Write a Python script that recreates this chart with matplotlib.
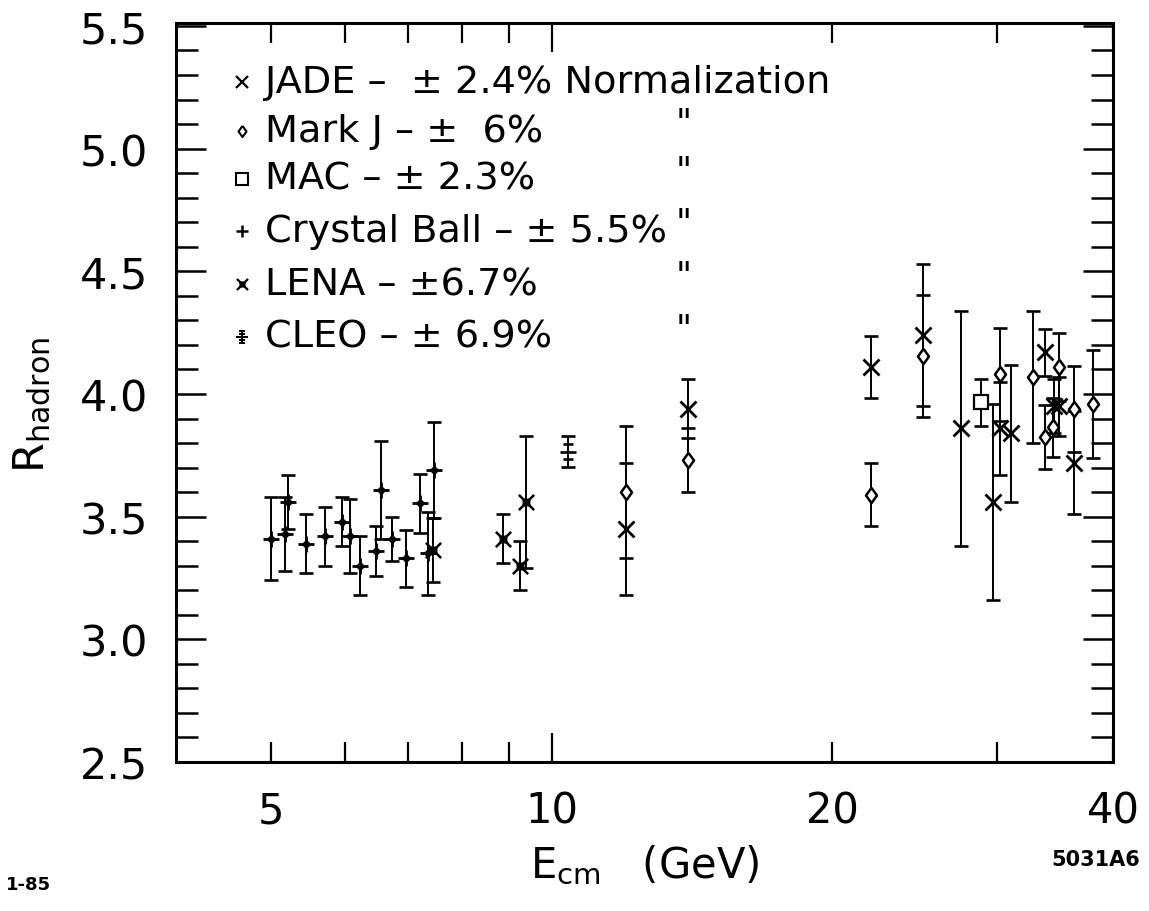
import matplotlib
matplotlib.use('Agg')
import matplotlib.pyplot as plt
from matplotlib.ticker import FixedLocator, FixedFormatter
from matplotlib.path import Path

plt.rcParams['font.family'] = ['DejaVu Sans']
plt.rcParams['mathtext.default'] = 'regular'

# ---------------- data ----------------
cb_x = [5.0, 5.17, 5.21, 5.45, 5.71, 5.96, 6.07, 6.23, 6.48, 6.56, 6.73, 6.98, 7.22, 7.37, 7.47]
cb_r = [3.41, 3.43, 3.56, 3.39, 3.42, 3.48, 3.42, 3.30, 3.36, 3.61, 3.41, 3.33, 3.555, 3.35, 3.69]
cb_e = [0.17, 0.15, 0.11, 0.12, 0.12, 0.10, 0.15, 0.12, 0.10, 0.20, 0.09, 0.115, 0.12, 0.17, 0.195]

lena_x = [7.45, 8.87, 9.24, 9.39]
lena_r = [3.365, 3.41, 3.30, 3.56]
lena_e = [0.13, 0.10, 0.10, 0.27]

cleo_x = [10.41]
cleo_r = [3.765]
cleo_e = [0.062]
cleo_stat = [0.03]

jade_x = [12.0, 14.0, 22.0, 25.0, 27.5, 29.75, 30.25, 31.1, 33.8, 34.6, 35.0, 36.3]
jade_r = [3.45, 3.94, 4.11, 4.24, 3.86, 3.56, 3.86, 3.84, 4.17, 3.95, 3.95, 3.72]
jade_e = [0.27, 0.12, 0.127, 0.29, 0.48, 0.40, 0.19, 0.28, 0.095, 0.11, 0.12, 0.21]

markj_x = [12.0, 14.0, 22.0, 25.0, 30.25, 32.85, 33.8, 34.5, 35.0, 36.3, 38.1]
markj_r = [3.60, 3.73, 3.59, 4.155, 4.08, 4.07, 3.825, 3.865, 4.11, 3.94, 3.96]
markj_e = [0.27, 0.13, 0.13, 0.25, 0.19, 0.27, 0.13, 0.12, 0.14, 0.176, 0.22]

mac_x = [28.9]
mac_r = [3.966]
mac_e = [0.097]

x_major = [5, 6, 7, 8, 9, 20, 30, 40]
x_major_labels = ['5', '', '', '', '', '20', '', '40']
x_long = [10]
x_long_labels = ['10']
y_major = [2.5, 3.0, 3.5, 4.0, 4.5, 5.0, 5.5]
y_major_labels = ['2.5', '3.0', '3.5', '4.0', '4.5', '5.0', '5.5']
y_minor = [round(2.5 + 0.1 * i, 1) for i in range(31)]

legend_rows = ['JADE \u2013  \u00b1 2.4% Normalization',
               'Mark J \u2013 \u00b1  6%',
               'MAC \u2013 \u00b1 2.3%',
               'Crystal Ball \u2013 \u00b1 5.5%',
               'LENA \u2013 \u00b16.7%',
               'CLEO \u2013 \u00b1 6.9%']

# ---------------- figure ----------------
W, H = 1149, 912
fig = plt.figure(figsize=(W / 100, H / 100), dpi=100)
L, R, B, T = 176, 1113, 763, 24
ax = fig.add_axes([L / W, 1 - B / H, (R - L) / W, (B - T) / H])
ax.set_xscale('log')
ax.set_xlim(3.95, 40)
ax.set_ylim(2.5, 5.512)

for s in ax.spines.values():
    s.set_linewidth(2.2)

# custom markers
M, Ln = Path.MOVETO, Path.LINETO
lena_marker = Path([(-1, -1), (1, 1), (-1, 1), (1, -1),
                    (-0.35, -0.35), (0.35, -0.35), (0.35, 0.35), (-0.35, 0.35), (-0.35, -0.35)],
                   [M, Ln, M, Ln, M, Ln, Ln, Ln, Ln])
diamond_marker = Path([(0, 1), (0.72, 0), (0, -1), (-0.72, 0), (0, 1)], [M, Ln, Ln, Ln, Ln])
cleo_marker = Path([(0, -1), (0, 1), (-0.5, 1), (0.5, 1), (-0.5, -1), (0.5, -1),
                    (-0.9, 0), (0.9, 0), (-0.45, 0.5), (0.45, 0.5), (-0.45, -0.5), (0.45, -0.5)],
                   [M, Ln, M, Ln, M, Ln, M, Ln, M, Ln, M, Ln])

eb = dict(fmt='none', ecolor='black', elinewidth=1.4, capsize=5, capthick=1.9, zorder=2)

# Crystal Ball
ax.errorbar(cb_x, cb_r, yerr=cb_e, **eb)
ax.plot(cb_x, cb_r, ls='none', marker='+', ms=12, mew=2.0, color='black', zorder=3)
ax.plot(cb_x, cb_r, ls='none', marker='D', ms=4.5, color='black', zorder=3)

# LENA
ax.errorbar(lena_x, lena_r, yerr=lena_e, **eb)
ax.plot(lena_x, lena_r, ls='none', marker=lena_marker, ms=11, mew=1.8,
        color='black', mfc='none', zorder=3)

# CLEO
ax.errorbar(cleo_x, cleo_r, yerr=cleo_e, **eb)
ax.errorbar(cleo_x, cleo_r, yerr=cleo_stat, fmt='none', ecolor='black',
            elinewidth=1.4, capsize=3.5, capthick=1.9, zorder=2)
ax.plot(cleo_x, cleo_r, ls='none', marker='_', ms=12, mew=1.9, color='black', zorder=3)

# JADE
ax.errorbar(jade_x, jade_r, yerr=jade_e, **eb)
ax.plot(jade_x, jade_r, ls='none', marker='x', ms=11, mew=2.0, color='black', zorder=3)

# Mark J
ax.errorbar(markj_x, markj_r, yerr=markj_e, **eb)
ax.plot(markj_x, markj_r, ls='none', marker=diamond_marker, ms=11, mew=1.8,
        color='black', mfc='white', zorder=4)

# MAC
ax.errorbar(mac_x, mac_r, yerr=mac_e, **eb)
ax.plot(mac_x, mac_r, ls='none', marker='s', ms=10, mew=1.6, color='black', mfc='white', zorder=4)

# ---------------- ticks ----------------
ax.xaxis.set_major_locator(FixedLocator(x_major))
ax.xaxis.set_major_formatter(FixedFormatter(x_major_labels))
ax.xaxis.set_minor_locator(FixedLocator(x_long))
ax.xaxis.set_minor_formatter(FixedFormatter(x_long_labels))
ax.tick_params(axis='x', which='major', direction='in', length=14.5, width=1.6,
               top=True, labelsize=30, pad=20)
ax.tick_params(axis='x', which='minor', direction='in', length=21, width=1.6,
               top=True, labelsize=30, pad=20)

ax.yaxis.set_major_locator(FixedLocator(y_major))
ax.yaxis.set_major_formatter(FixedFormatter(y_major_labels))
ax.yaxis.set_minor_locator(FixedLocator(y_minor))
ax.tick_params(axis='y', which='major', direction='in', length=21.5, width=1.8,
               right=True, labelsize=31, pad=20)
ax.tick_params(axis='y', which='minor', direction='in', length=16, width=1.8, right=True)

# ---------------- labels ----------------
fig.text(32 / W, 1 - 405 / H, r'R$_{hadron}$', rotation=90, ha='center', va='center', fontsize=31)
fig.text(645 / W, 1 - 866 / H, r'E$_{cm}$   (GeV)', ha='center', va='center', fontsize=30)
fig.text(6 / W, 1 - 885 / H, '1-85', ha='left', va='center', fontsize=13, fontweight='bold')
fig.text(1140 / W, 1 - 860 / H, '5031A6', ha='right', va='center', fontsize=15, fontweight='bold')

# ---------------- legend (drawn as text) ----------------
def axpos(px, py):
    return (px - L) / (R - L), (B - py) / (B - T)

row_y = [83, 132, 180, 232, 285, 338]
legend_markers = [dict(marker='x', ms=8, mew=1.6, mfc='none'),
                  dict(marker=diamond_marker, ms=8, mew=1.5, mfc='white'),
                  dict(marker='s', ms=8, mew=1.5, mfc='white'),
                  dict(marker='+', ms=9, mew=1.8, mfc='none'),
                  dict(marker=lena_marker, ms=8, mew=1.6, mfc='none'),
                  dict(marker=cleo_marker, ms=9, mew=1.4, mfc='none')]
for yy, txt, mk in zip(row_y, legend_rows, legend_markers):
    mx, my = axpos(242, yy)
    ax.plot([mx], [my], ls='none', color='black', transform=ax.transAxes, clip_on=False, **mk)
    tx, ty = axpos(265, yy)
    ax.text(tx, ty, txt, transform=ax.transAxes, ha='left', va='center', fontsize=27.5)
for yy in row_y[1:]:
    qx, qy = axpos(684, yy - 8)
    ax.text(qx, qy, '"', transform=ax.transAxes, ha='center', va='center', fontsize=25)

fig.savefig('out.png', dpi=100)
